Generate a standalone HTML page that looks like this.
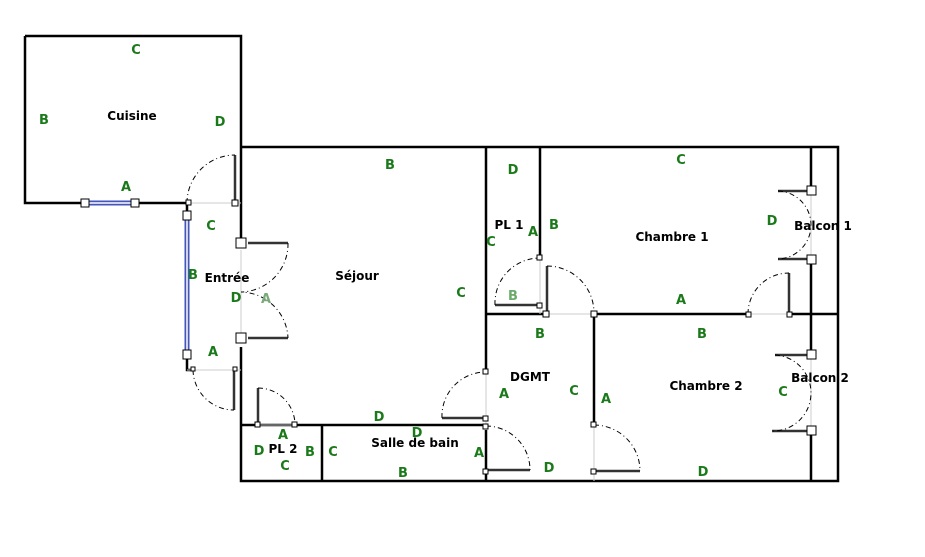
<!DOCTYPE html>
<html><head><meta charset="utf-8"><style>
html,body{margin:0;padding:0;background:#fff;}
svg{display:block;}
.g{fill:#1a7a1a;font:bold 13px "DejaVu Sans","Liberation Sans",sans-serif;text-anchor:middle;}
.n{fill:#000;font:bold 12px "DejaVu Sans","Liberation Sans",sans-serif;text-anchor:middle;}
.w{stroke:#000;stroke-width:2.5;fill:none;}
.t{stroke:#ccc;stroke-width:1;fill:none;}
.a{stroke:#000;stroke-width:1;fill:none;stroke-dasharray:5,3,1,3;}
.f{stroke:#333;stroke-width:2.5;fill:none;}
.s{fill:#fff;stroke:#000;stroke-width:1;}
</style></head><body>
<svg width="925" height="557" viewBox="0 0 925 557" xmlns="http://www.w3.org/2000/svg">
<path class="w" d="M25,36 H241 V240 M241,347 V481 H838 V147 H241 M25,36 V203 H187 V215 M187,355 V370 H193"/>
<path class="w" d="M486,147 V372 M486,430 V481 M540,147 V258 M486,314 H545 M594,314 H748 M790,314 H838 M594,314 V425 M241,425 H486 M322,425 V481 M811,147 V191 M811,259 V355 M811,431 V481"/>
<path class="t" d="M187,203 H241 M187,370 H241 M241,250 V333 M258,425 H295 M486,372 V430 M545,314 H594 M594,425 V481 M748,314 H790 M811,191 V259 M811,355 V431 M540,258 V314"/>
<path d="M85,203 H135" stroke="#4455bb" stroke-width="5" fill="none"/>
<path d="M85,203 H135" stroke="#fff" stroke-width="1.5" fill="none"/>
<path d="M187,215 V355" stroke="#4455bb" stroke-width="5" fill="none"/>
<path d="M187,215 V355" stroke="#fff" stroke-width="1.5" fill="none"/>
<path class="f" d="M235,155 V203 M234,370 V410 M248,243 H288 M248,338 H288 M258,388 V425 M442,418 H486 M486,470 H530 M594,471 H640 M540,305 H495 M547,266 V314 M789,273 V314 M778,191 H811 M778,259 H811 M775,355 H811 M772,431 H811"/>
<path class="a" d="M187,203 A48,48 0 0 1 235,155"/>
<path class="a" d="M193,370 A41,41 0 0 0 234,410"/>
<path class="a" d="M288,243 A48,48 0 0 1 241,292 A48,48 0 0 1 288,338"/>
<path class="a" d="M258,388 A37,37 0 0 1 295,425"/>
<path class="a" d="M442,418 A44,44 0 0 1 486,372"/>
<path class="a" d="M486,426 A44,44 0 0 1 530,470"/>
<path class="a" d="M594,425 A46,46 0 0 1 640,471"/>
<path class="a" d="M495,305 A45,45 0 0 1 540,258"/>
<path class="a" d="M547,266 A47,47 0 0 1 594,314"/>
<path class="a" d="M748,314 A41,41 0 0 1 789,273"/>
<path class="a" d="M778,191 A34,34 0 0 1 811,225 A34,34 0 0 1 778,259"/>
<path class="a" d="M775,355 A38,38 0 0 1 811,393 A38,38 0 0 1 772,431"/>
<rect class="s" x="81" y="199" width="8" height="8"/><rect class="s" x="131" y="199" width="8" height="8"/>
<rect class="s" x="183" y="211" width="8" height="9"/><rect class="s" x="183" y="350" width="8" height="9"/>
<rect class="s" x="186" y="200" width="5" height="5"/><rect class="s" x="232" y="200" width="6" height="6"/>
<rect class="s" x="236" y="238" width="10" height="10"/><rect class="s" x="236" y="333" width="10" height="10"/>
<rect class="s" x="191" y="367" width="4" height="4"/><rect class="s" x="233" y="367" width="4" height="4"/>
<rect class="s" x="255" y="422" width="5" height="5"/><rect class="s" x="292" y="422" width="5" height="5"/>
<rect class="s" x="483" y="369" width="5" height="5"/><rect class="s" x="483" y="416" width="5" height="5"/><rect class="s" x="483" y="424" width="5" height="5"/><rect class="s" x="483" y="469" width="5" height="5"/>
<rect class="s" x="537" y="255" width="5" height="5"/><rect class="s" x="537" y="303" width="5" height="5"/>
<rect class="s" x="543" y="311" width="6" height="6"/><rect class="s" x="591" y="311" width="6" height="6"/>
<rect class="s" x="591" y="422" width="5" height="5"/><rect class="s" x="591" y="469" width="5" height="5"/>
<rect class="s" x="746" y="312" width="5" height="5"/><rect class="s" x="787" y="312" width="5" height="5"/>
<rect class="s" x="807" y="186" width="9" height="9"/><rect class="s" x="807" y="255" width="9" height="9"/>
<rect class="s" x="807" y="350" width="9" height="9"/><rect class="s" x="807" y="426" width="9" height="9"/>
<text class="n" x="132" y="120">Cuisine</text>
<text class="n" x="227" y="282">Entrée</text>
<text class="n" x="357" y="280">Séjour</text>
<text class="n" x="509" y="229">PL 1</text>
<text class="n" x="672" y="241">Chambre 1</text>
<text class="n" x="823" y="230">Balcon 1</text>
<text class="n" x="530" y="381">DGMT</text>
<text class="n" x="706" y="390">Chambre 2</text>
<text class="n" x="820" y="382">Balcon 2</text>
<text class="n" x="283" y="453">PL 2</text>
<text class="n" x="415" y="447">Salle de bain</text>
<text class="g" x="136" y="54">C</text><text class="g" x="44" y="124">B</text><text class="g" x="220" y="126">D</text><text class="g" x="126" y="191">A</text>
<text class="g" x="211" y="230">C</text><text class="g" x="193" y="279">B</text><text class="g" x="236" y="302">D</text><text class="g" x="266" y="303" style="fill:#7aaa7a">A</text><text class="g" x="213" y="356">A</text>
<text class="g" x="390" y="169">B</text><text class="g" x="461" y="297">C</text><text class="g" x="379" y="421">D</text><text class="g" x="417" y="437">D</text>
<text class="g" x="513" y="174">D</text><text class="g" x="491" y="246">C</text><text class="g" x="533" y="236">A</text><text class="g" x="554" y="229">B</text><text class="g" x="513" y="300" style="fill:#6aaa6a">B</text>
<text class="g" x="681" y="164">C</text><text class="g" x="681" y="304">A</text><text class="g" x="772" y="225">D</text>
<text class="g" x="540" y="338">B</text><text class="g" x="702" y="338">B</text><text class="g" x="504" y="398">A</text><text class="g" x="574" y="395">C</text><text class="g" x="606" y="403">A</text><text class="g" x="783" y="396">C</text>
<text class="g" x="283" y="439">A</text><text class="g" x="259" y="455">D</text><text class="g" x="310" y="456">B</text><text class="g" x="333" y="456">C</text><text class="g" x="285" y="470">C</text>
<text class="g" x="403" y="477">B</text><text class="g" x="479" y="457">A</text><text class="g" x="549" y="472">D</text><text class="g" x="703" y="476">D</text>
</svg>
</body></html>
